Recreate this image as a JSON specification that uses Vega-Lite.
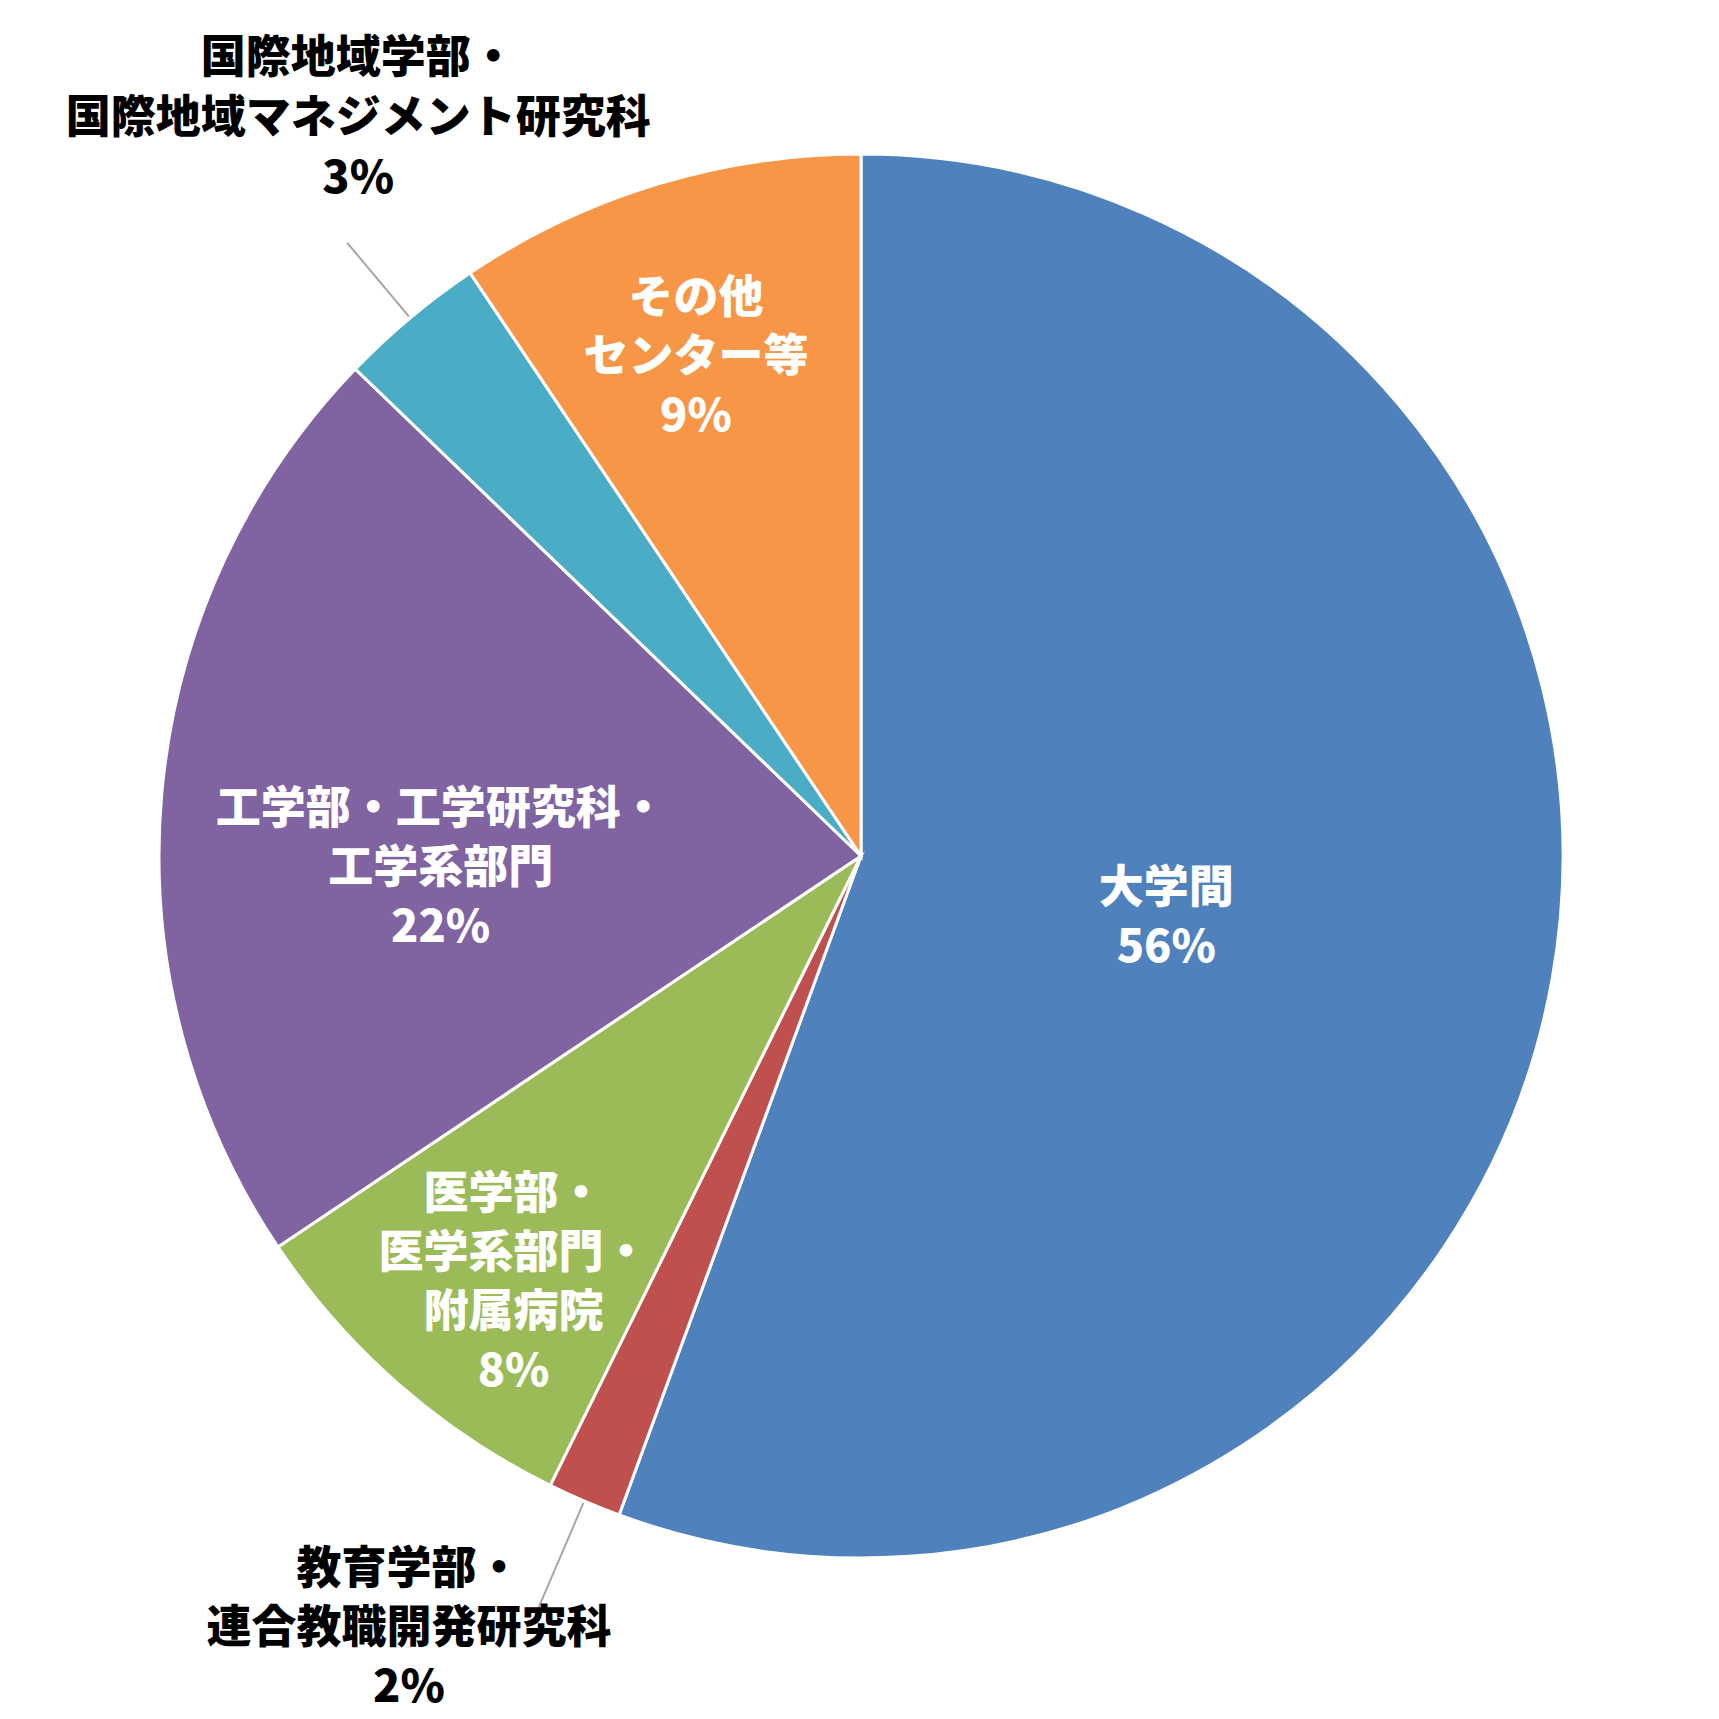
{
  "$schema": "https://vega.github.io/schema/vega-lite/v6.json",
  "width": 1700,
  "height": 1702,
  "autosize": "none",
  "padding": {"left": 11, "right": 8, "top": 5, "bottom": 12},
  "background": "white",
  "data": {
    "values": [
      {"order": 1, "name": "大学間", "value": 55.6},
      {"order": 2, "name": "教育学部・\n連合教職開発研究科", "value": 1.7},
      {"order": 3, "name": "医学部・\n医学系部門・\n附属病院", "value": 8.3},
      {"order": 4, "name": "工学部・工学研究科・\n工学系部門", "value": 21.6},
      {"order": 5, "name": "国際地域学部・\n国際地域マネジメント研究科", "value": 3.4},
      {"order": 6, "name": "その他\nセンター等", "value": 9.4}
    ]
  },
  "transform": [
    {"window": [{"op": "sum", "field": "value", "as": "end"}], "sort": [{"field": "order"}], "frame": [null, 0]},
    {"calculate": "datum.end - datum.value", "as": "start"},
    {"calculate": "datum.end - datum.value / 2", "as": "mid"},
    {"calculate": "datum.name + '\\n' + format(datum.value / 100, '.0%')", "as": "label"}
  ],
  "layer": [
    {
      "mark": {"type": "arc", "radius": 702, "stroke": "white", "strokeWidth": 3},
      "encoding": {
        "theta": {"field": "start", "type": "quantitative", "stack": null, "scale": {"domain": [0, 100]}},
        "theta2": {"field": "end"},
        "color": {
          "field": "order",
          "type": "nominal",
          "scale": {
            "domain": [1, 2, 3, 4, 5, 6],
            "range": ["#4F81BD", "#C0504D", "#9BBB59", "#8064A2", "#4BACC6", "#F79646"]
          },
          "legend": null
        }
      }
    },
    {
      "transform": [{"filter": "datum.order == 2"}],
      "mark": {"type": "arc", "radius": 820, "radius2": 704, "filled": false, "stroke": "#a6a6a6", "strokeWidth": 2},
      "encoding": {
        "theta": {"field": "mid", "type": "quantitative", "stack": null, "scale": {"domain": [0, 100]}},
        "theta2": {"field": "mid"}
      }
    },
    {
      "transform": [{"filter": "datum.order == 5"}],
      "mark": {"type": "arc", "radius": 800, "radius2": 704, "filled": false, "stroke": "#a6a6a6", "strokeWidth": 2},
      "encoding": {
        "theta": {"field": "mid", "type": "quantitative", "stack": null, "scale": {"domain": [0, 100]}},
        "theta2": {"field": "mid"}
      }
    },
    {
      "transform": [{"filter": "datum.order == 1"}],
      "mark": {"type": "text", "radius": 309, "dx": 1, "dy": -21, "align": "center", "baseline": "middle", "lineBreak": "\n", "font": "Noto Sans CJK JP", "fontWeight": 900, "fontSize": 45, "lineHeight": 59, "fill": "white"},
      "encoding": {
        "theta": {"field": "mid", "type": "quantitative", "stack": null, "scale": {"domain": [0, 100]}},
        "text": {"field": "label"}
      }
    },
    {
      "transform": [{"filter": "datum.order == 6"}],
      "mark": {"type": "text", "radius": 526, "dx": -12, "dy": -54, "align": "center", "baseline": "middle", "lineBreak": "\n", "font": "Noto Sans CJK JP", "fontWeight": 900, "fontSize": 45, "lineHeight": 59, "fill": "white"},
      "encoding": {
        "theta": {"field": "mid", "type": "quantitative", "stack": null, "scale": {"domain": [0, 100]}},
        "text": {"field": "label"}
      }
    },
    {
      "transform": [{"filter": "datum.order == 4"}],
      "mark": {"type": "text", "radius": 424, "dx": 2, "dy": -9, "align": "center", "baseline": "middle", "lineBreak": "\n", "font": "Noto Sans CJK JP", "fontWeight": 900, "fontSize": 45, "lineHeight": 59, "fill": "white"},
      "encoding": {
        "theta": {"field": "mid", "type": "quantitative", "stack": null, "scale": {"domain": [0, 100]}},
        "text": {"field": "label"}
      }
    },
    {
      "transform": [{"filter": "datum.order == 3"}],
      "mark": {"type": "text", "radius": 553, "dx": 17, "dy": -77, "align": "center", "baseline": "middle", "lineBreak": "\n", "font": "Noto Sans CJK JP", "fontWeight": 900, "fontSize": 45, "lineHeight": 59, "fill": "white"},
      "encoding": {
        "theta": {"field": "mid", "type": "quantitative", "stack": null, "scale": {"domain": [0, 100]}},
        "text": {"field": "label"}
      }
    },
    {
      "transform": [{"filter": "datum.order == 2"}],
      "mark": {"type": "text", "radius": 898, "dx": -98, "dy": -111, "align": "center", "baseline": "middle", "lineBreak": "\n", "font": "Noto Sans CJK JP", "fontWeight": 900, "fontSize": 45, "lineHeight": 59, "fill": "black"},
      "encoding": {
        "theta": {"field": "mid", "type": "quantitative", "stack": null, "scale": {"domain": [0, 100]}},
        "text": {"field": "label"}
      }
    },
    {
      "transform": [{"filter": "datum.order == 5"}],
      "mark": {"type": "text", "radius": 895, "dx": 72, "dy": -111, "align": "center", "baseline": "middle", "lineBreak": "\n", "font": "Noto Sans CJK JP", "fontWeight": 900, "fontSize": 45, "lineHeight": 60, "fill": "black"},
      "encoding": {
        "theta": {"field": "mid", "type": "quantitative", "stack": null, "scale": {"domain": [0, 100]}},
        "text": {"field": "label"}
      }
    }
  ],
  "config": {"view": {"stroke": null}}
}
